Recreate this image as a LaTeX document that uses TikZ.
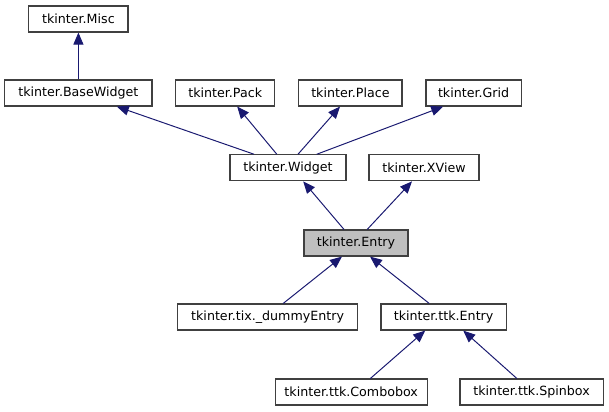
\documentclass[tikz,border=0pt]{standalone}
\usepackage{fontspec}
\setmainfont{DejaVu Sans}
\usetikzlibrary{arrows.meta}
\definecolor{edgeblue}{RGB}{25,25,112}
\tikzset{
  cls/.style={draw=black!75,fill=white,line width=0.8pt,minimum height=0.65cm,inner sep=0pt,font=\fontsize{9}{11}\selectfont},
  cur/.style={cls,fill=black!25},
  inh/.style={edgeblue,line width=0.7pt,-{Triangle[length=0.3cm,width=0.25cm]}}
}
\begin{document}
\begin{tikzpicture}
\useasboundingbox (0,0) rectangle (15.225,10.275);

\node[cls,minimum width=2.48cm] (misc) at (1.96,9.8) {tkinter.Misc};

\node[cls,minimum width=3.68cm] (basewidget) at (1.96,7.95) {tkinter.BaseWidget};
\node[cls,minimum width=2.48cm] (pack) at (5.63,7.95) {tkinter.Pack};
\node[cls,minimum width=2.58cm] (place) at (8.76,7.95) {tkinter.Place};
\node[cls,minimum width=2.38cm] (grid) at (11.84,7.95) {tkinter.Grid};

\node[cls,minimum width=2.9cm] (widget) at (7.2,6.08) {tkinter.Widget};
\node[cls,minimum width=2.75cm] (xview) at (10.6,6.08) {tkinter.XView};

\node[cur,minimum width=2.6cm] (entry) at (8.9,4.2) {tkinter.Entry};

\node[cls,minimum width=4.5cm] (dummy) at (6.69,2.35) {tkinter.tix.\_dummyEntry};
\node[cls,minimum width=3.13cm] (ttkentry) at (11.09,2.35) {tkinter.ttk.Entry};

\node[cls,minimum width=3.8cm] (combobox) at (8.78,0.475) {tkinter.ttk.Combobox};
\node[cls,minimum width=3.58cm] (spinbox) at (13.29,0.475) {tkinter.ttk.Spinbox};

% inheritance
\draw[inh] (basewidget.north) -- (misc.south);

\draw[inh] ([xshift=-0.85cm]widget.north) -- ([xshift=0.96cm]basewidget.south);
\draw[inh] ([xshift=-0.28cm]widget.north) -- ([xshift=0.3cm]pack.south);
\draw[inh] ([xshift=0.25cm]widget.north) -- ([xshift=-0.26cm]place.south);
\draw[inh] ([xshift=0.72cm]widget.north) -- ([xshift=-0.76cm]grid.south);

\draw[inh] ([xshift=-0.3cm]entry.north) -- ([xshift=0.38cm]widget.south);
\draw[inh] ([xshift=0.28cm]entry.north) -- ([xshift=-0.3cm]xview.south);

\draw[inh] ([xshift=0.39cm]dummy.north) -- ([xshift=-0.35cm]entry.south);
\draw[inh] ([xshift=-0.36cm]ttkentry.north) -- ([xshift=0.35cm]entry.south);

\draw[inh] ([xshift=0.48cm]combobox.north) -- ([xshift=-0.46cm]ttkentry.south);
\draw[inh] ([xshift=-0.37cm]spinbox.north) -- ([xshift=0.49cm]ttkentry.south);

\end{tikzpicture}
\end{document}
